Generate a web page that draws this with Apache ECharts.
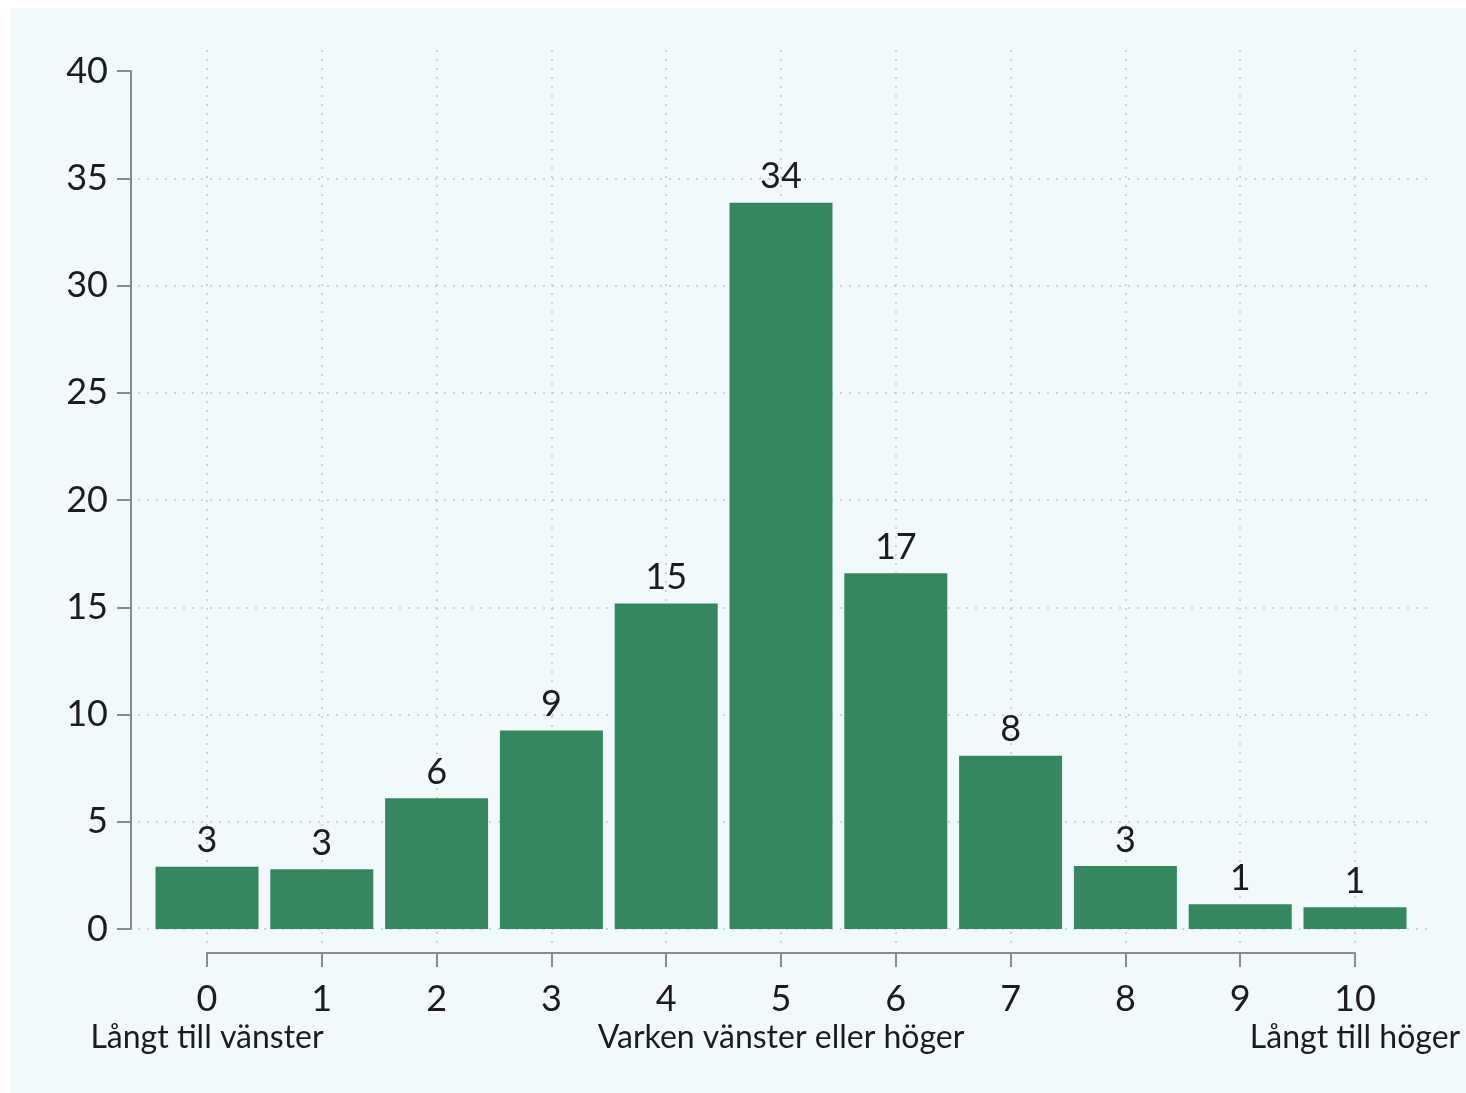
<!DOCTYPE html>
<html>
<head>
<meta charset="utf-8">
<script src="https://cdn.jsdelivr.net/npm/echarts@6/dist/echarts.min.js"></script>
<style>
  html, body { margin: 0; padding: 0; background: #ffffff; }
  #chart { position: absolute; left: 11px; top: 8px; width: 1455px; height: 1085px; }
</style>
</head>
<body>
<div id="chart"></div>
<script>
// scale positions 0..10 (left-right placement)
const positions = [0, 1, 2, 3, 4, 5, 6, 7, 8, 9, 10];
// share of respondents (%)
const shares = [2.9, 2.78, 6.09, 9.25, 15.18, 33.86, 16.58, 8.08, 2.94, 1.15, 1.01];
// rounded labels printed above the bars
const barLabels = ['3', '3', '6', '9', '15', '34', '17', '8', '3', '1', '1'];
// second line under some tick labels
const endLabels = { 0: 'Långt till vänster', 5: 'Varken vänster eller höger', 10: 'Långt till höger' };
const yTicks = [0, 5, 10, 15, 20, 25, 30, 35, 40];

const FONT = 'Lato, "Noto Sans", sans-serif';
const TEXT = '#1c1c1c';
const AXIS = '#8a8a8a';
const GRIDC = '#c2c6ca';

const chart = echarts.init(document.getElementById('chart'), null, { renderer: 'canvas' });

const option = {
  backgroundColor: '#f2f9fd',
  textStyle: { fontFamily: FONT },
  grid: [
    // 0: y axis
    { left: 120, right: 38, top: 63, bottom: 164, outerBoundsMode: 'none' },
    // 1: bars + x axis
    { left: 196, right: 111, top: 63, bottom: 164, outerBoundsMode: 'none' },
    // 2: vertical dotted lines + second row of x labels
    { left: 196, right: 111, top: 42, bottom: 148, outerBoundsMode: 'none' },
    // 3: horizontal dotted lines (0..35)
    { left: 127, right: 38, top: 170.25, bottom: 164, outerBoundsMode: 'none' }
  ],
  xAxis: [
    { gridIndex: 0, type: 'value', min: 0, max: 1, show: false },
    {
      gridIndex: 1, type: 'value', min: 0, max: 10, interval: 1,
      position: 'bottom',
      offset: 24,
      axisLine: { show: true, onZero: false, lineStyle: { color: AXIS, width: 2 } },
      axisTick: { show: true, length: 14, lineStyle: { color: AXIS, width: 2 } },
      splitLine: { show: false },
      axisLabel: {
        margin: 28,
        showMinLabel: true,
        showMaxLabel: true,
        hideOverlap: false,
        fontSize: 36, color: TEXT, fontFamily: FONT
      }
    },
    {
      gridIndex: 2, type: 'value', min: 0, max: 10, interval: 1,
      position: 'bottom',
      axisLine: { show: false, onZero: false }, axisTick: { show: false },
      axisLabel: {
        show: true,
        margin: 77,
        showMinLabel: true,
        showMaxLabel: true,
        hideOverlap: false,
        fontSize: 32, color: TEXT, fontFamily: FONT,
        formatter: (v) => endLabels[v] || ''
      },
      splitLine: { show: true, lineStyle: { color: GRIDC, width: 1.5, type: [2, 7] } }
    },
    { gridIndex: 3, type: 'value', min: 0, max: 1, show: false }
  ],
  yAxis: [
    {
      gridIndex: 0, type: 'value', min: yTicks[0], max: yTicks[yTicks.length - 1], interval: 5,
      axisLine: { show: true, lineStyle: { color: AXIS, width: 2 } },
      axisTick: { show: true, length: 14, lineStyle: { color: AXIS, width: 2 } },
      splitLine: { show: false },
      axisLabel: { margin: 23, fontSize: 36, color: TEXT, fontFamily: FONT }
    },
    { gridIndex: 1, type: 'value', min: 0, max: 40, show: false },
    { gridIndex: 2, type: 'value', min: 0, max: 1, show: false },
    {
      gridIndex: 3, type: 'value', min: 0, max: 35, interval: 5,
      axisLine: { show: false }, axisTick: { show: false }, axisLabel: { show: false },
      splitLine: { show: true, lineStyle: { color: GRIDC, width: 1.5, type: [2, 7] } }
    }
  ],
  series: [
    {
      type: 'bar',
      xAxisIndex: 1,
      yAxisIndex: 1,
      clip: false,
      barWidth: 103,
      data: positions.map((p, i) => [p, shares[i]]),
      itemStyle: { color: '#34875f' },
      label: {
        show: true,
        position: 'top',
        distance: 8,
        fontSize: 36,
        color: TEXT,
        fontFamily: FONT,
        formatter: (p) => barLabels[p.dataIndex]
      },
      z: 3
    }
  ]
};

chart.setOption(option);
window.addEventListener('resize', chart.resize);
</script>
</body>
</html>
